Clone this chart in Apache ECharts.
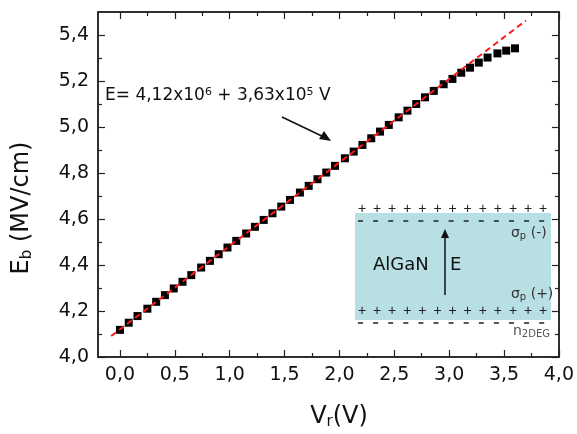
<!DOCTYPE html>
<html>
<head>
<meta charset="utf-8">
<script src="https://cdn.jsdelivr.net/npm/echarts@6/dist/echarts.min.js"></script>
<style>
	html, body { margin: 0; padding: 0; background: #fff; }
	#chart { width: 577px; height: 434px; }
</style>
</head>
<body>
<div id="chart"></div>
<script>
	// V_r (V) of each measured point
	const voltages = [0.00, 0.08, 0.16, 0.25, 0.33, 0.41, 0.49, 0.57, 0.65, 0.74,
		0.82, 0.90, 0.98, 1.06, 1.15, 1.23, 1.31, 1.39, 1.47, 1.55,
		1.64, 1.72, 1.80, 1.88, 1.96, 2.05, 2.13, 2.21, 2.29, 2.37,
		2.45, 2.54, 2.62, 2.70, 2.78, 2.86, 2.95, 3.03, 3.11, 3.19,
		3.27, 3.35, 3.44, 3.52, 3.60];
	// E_b (MV/cm)
	const fields = [4.118, 4.149, 4.178, 4.210, 4.240, 4.269, 4.298, 4.327, 4.356, 4.389,
		4.418, 4.447, 4.476, 4.505, 4.537, 4.566, 4.596, 4.625, 4.654, 4.683,
		4.715, 4.744, 4.773, 4.802, 4.831, 4.864, 4.893, 4.922, 4.951, 4.980,
		5.009, 5.042, 5.071, 5.100, 5.129, 5.157, 5.186, 5.209, 5.236, 5.258,
		5.280, 5.302, 5.320, 5.332, 5.342];
	// linear fit E = 4,12x10^6 + 3,63x10^5 V, end points
	const fitLine = [[-0.08, 4.091], [3.70, 5.463]];

	const xTicks = [0, 0.5, 1, 1.5, 2, 2.5, 3, 3.5, 4];
	const xMinor = [0.25, 0.75, 1.25, 1.75, 2.25, 2.75, 3.25, 3.75];
	const yTicks = [4.0, 4.2, 4.4, 4.6, 4.8, 5.0, 5.2, 5.4];
	const yMinor = [4.1, 4.3, 4.5, 4.7, 4.9, 5.1, 5.3];

	const font = "DejaVu Sans";
	const comma = (v) => v.toFixed(1).replace(".", ",");

	const chart = echarts.init(document.getElementById("chart"));

	function axis(pos, min, max, ticks, len, labels) {
		return {
			type: "value",
			position: pos,
			min: min,
			max: max,
			splitLine: { show: false },
			axisLine: { show: true, onZero: false, lineStyle: { color: "#222", width: 1.5 } },
			axisTick: { show: true, inside: true, length: len, customValues: ticks, lineStyle: { color: "#222", width: 1.2 } },
			axisLabel: labels
				? { show: true, customValues: ticks, formatter: comma, color: "#111", fontFamily: font, fontSize: 19, margin: 9 }
				: { show: false },
		};
	}

	// charge rows of the inset sketch
	const plusRow = (y) => {
		let out = [];
		for (let i = 0; i < 13; i++) {
			out.push({
				type: "text", x: 362 + i * 15.1, y: y,
				style: { text: "+", fontSize: 14, fontFamily: "Liberation Sans", fill: "#222", align: "center", verticalAlign: "middle" },
			});
		}
		return out;
	};

	const subText = (x, y, main, sub, tail, color) => ({
		type: "text", x: x, y: y,
		style: {
			text: "{a|" + main + "}{s|" + sub + "}{a|" + tail + "}", verticalAlign: "middle",
			rich: {
				a: { fontSize: 14, fontFamily: font, fill: color, lineHeight: 18 },
				s: { fontSize: 10, fontFamily: font, fill: color, lineHeight: 18, padding: [7, 0, 0, 0] },
			},
		},
	});

	const graphics = [
		// y axis title
		{
			type: "text", x: 22, y: 208, rotation: Math.PI / 2,
			style: {
				text: "{m|E}{s|b}{m| (MV/cm)}",
				align: "center", verticalAlign: "middle",
				rich: {
					m: { fontSize: 24, fontFamily: font, fill: "#111", lineHeight: 30 },
					s: { fontSize: 15, fontFamily: font, fill: "#111", lineHeight: 30, padding: [10, 0, 0, 0] },
				},
			},
		},
		// x axis title
		{
			type: "text", x: 339, y: 417,
			style: {
				text: "{m|V}{s|r}{m|(V)}",
				align: "center", verticalAlign: "middle",
				rich: {
					m: { fontSize: 24, fontFamily: font, fill: "#111", lineHeight: 30 },
					s: { fontSize: 15, fontFamily: font, fill: "#111", lineHeight: 30, padding: [10, 0, 0, 0] },
				},
			},
		},
		// fit equation
		{
			type: "text", x: 105, y: 96,
			style: {
				text: "{a|E= 4,12x10}{p|6}{a| + 3,63x10}{p|5}{a| V}",
				verticalAlign: "middle",
				rich: {
					a: { fontSize: 17, fontFamily: font, fill: "#111", lineHeight: 22 },
					p: { fontSize: 11, fontFamily: font, fill: "#111", lineHeight: 22, padding: [0, 0, 8, 0] },
				},
			},
		},
		{
			type: "line", shape: { x1: 282, y1: 117, x2: 328, y2: 139 },
			style: { stroke: "#111", lineWidth: 1.5 },
		},
		{
			type: "polygon", shape: { points: [[331, 141], [319, 139], [324, 131]] },
			style: { fill: "#111" },
		},
		// AlGaN inset
		{
			type: "rect", shape: { x: 355, y: 213, width: 196, height: 107 },
			style: { fill: "#b8dfe3" },
		},
		...plusRow(209),
		...plusRow(311),
		{
			type: "line", shape: { x1: 358, y1: 221, x2: 550, y2: 221 },
			style: { stroke: "#222", lineWidth: 1.3, lineDash: [5, 10.1] },
		},
		{
			type: "line", shape: { x1: 358, y1: 323, x2: 550, y2: 323 },
			style: { stroke: "#222", lineWidth: 1.3, lineDash: [5, 10.1] },
		},
		{
			type: "text", x: 373, y: 265,
			style: { text: "AlGaN", fontSize: 18, fontFamily: font, fill: "#111", verticalAlign: "middle" },
		},
		{
			type: "text", x: 450, y: 265,
			style: { text: "E", fontSize: 18, fontFamily: font, fill: "#111", verticalAlign: "middle" },
		},
		{
			type: "line", shape: { x1: 445, y1: 295, x2: 445, y2: 236 },
			style: { stroke: "#111", lineWidth: 1.5 },
		},
		{
			type: "polygon", shape: { points: [[445, 229], [441, 238], [449, 238]] },
			style: { fill: "#111" },
		},
		subText(511, 233, "σ", "p", " (-)", "#333"),
		subText(511, 294, "σ", "p", " (+)", "#333"),
		subText(513, 331, "n", "2DEG", "", "#555"),
	];

	const option = {
		animation: false,
		backgroundColor: "#fff",
		grid: { left: 98, right: 15, top: 12, bottom: 77 },
		xAxis: [
			axis("bottom", -0.2, 4, xTicks, 7, true),
			axis("bottom", -0.2, 4, xMinor, 4, false),
			axis("top", -0.2, 4, xTicks, 7, false),
			axis("top", -0.2, 4, xMinor, 4, false),
		],
		yAxis: [
			axis("left", 4, 5.5, yTicks, 7, true),
			axis("left", 4, 5.5, yMinor, 4, false),
			axis("right", 4, 5.5, yTicks, 7, false),
			axis("right", 4, 5.5, yMinor, 4, false),
		],
		graphic: graphics,
		series: [
			{
				type: "line",
				data: fitLine,
				symbol: "none",
				lineStyle: { color: "#ff1a1a", width: 2, type: [6, 4] },
				z: 3,
			},
			{
				type: "scatter",
				data: voltages.map((v, i) => [v, fields[i]]),
				symbol: "rect",
				symbolSize: 8,
				itemStyle: { color: "#000", opacity: 1 },
				z: 2,
			},
		],
	};

	chart.setOption(option);
</script>
</body>
</html>
